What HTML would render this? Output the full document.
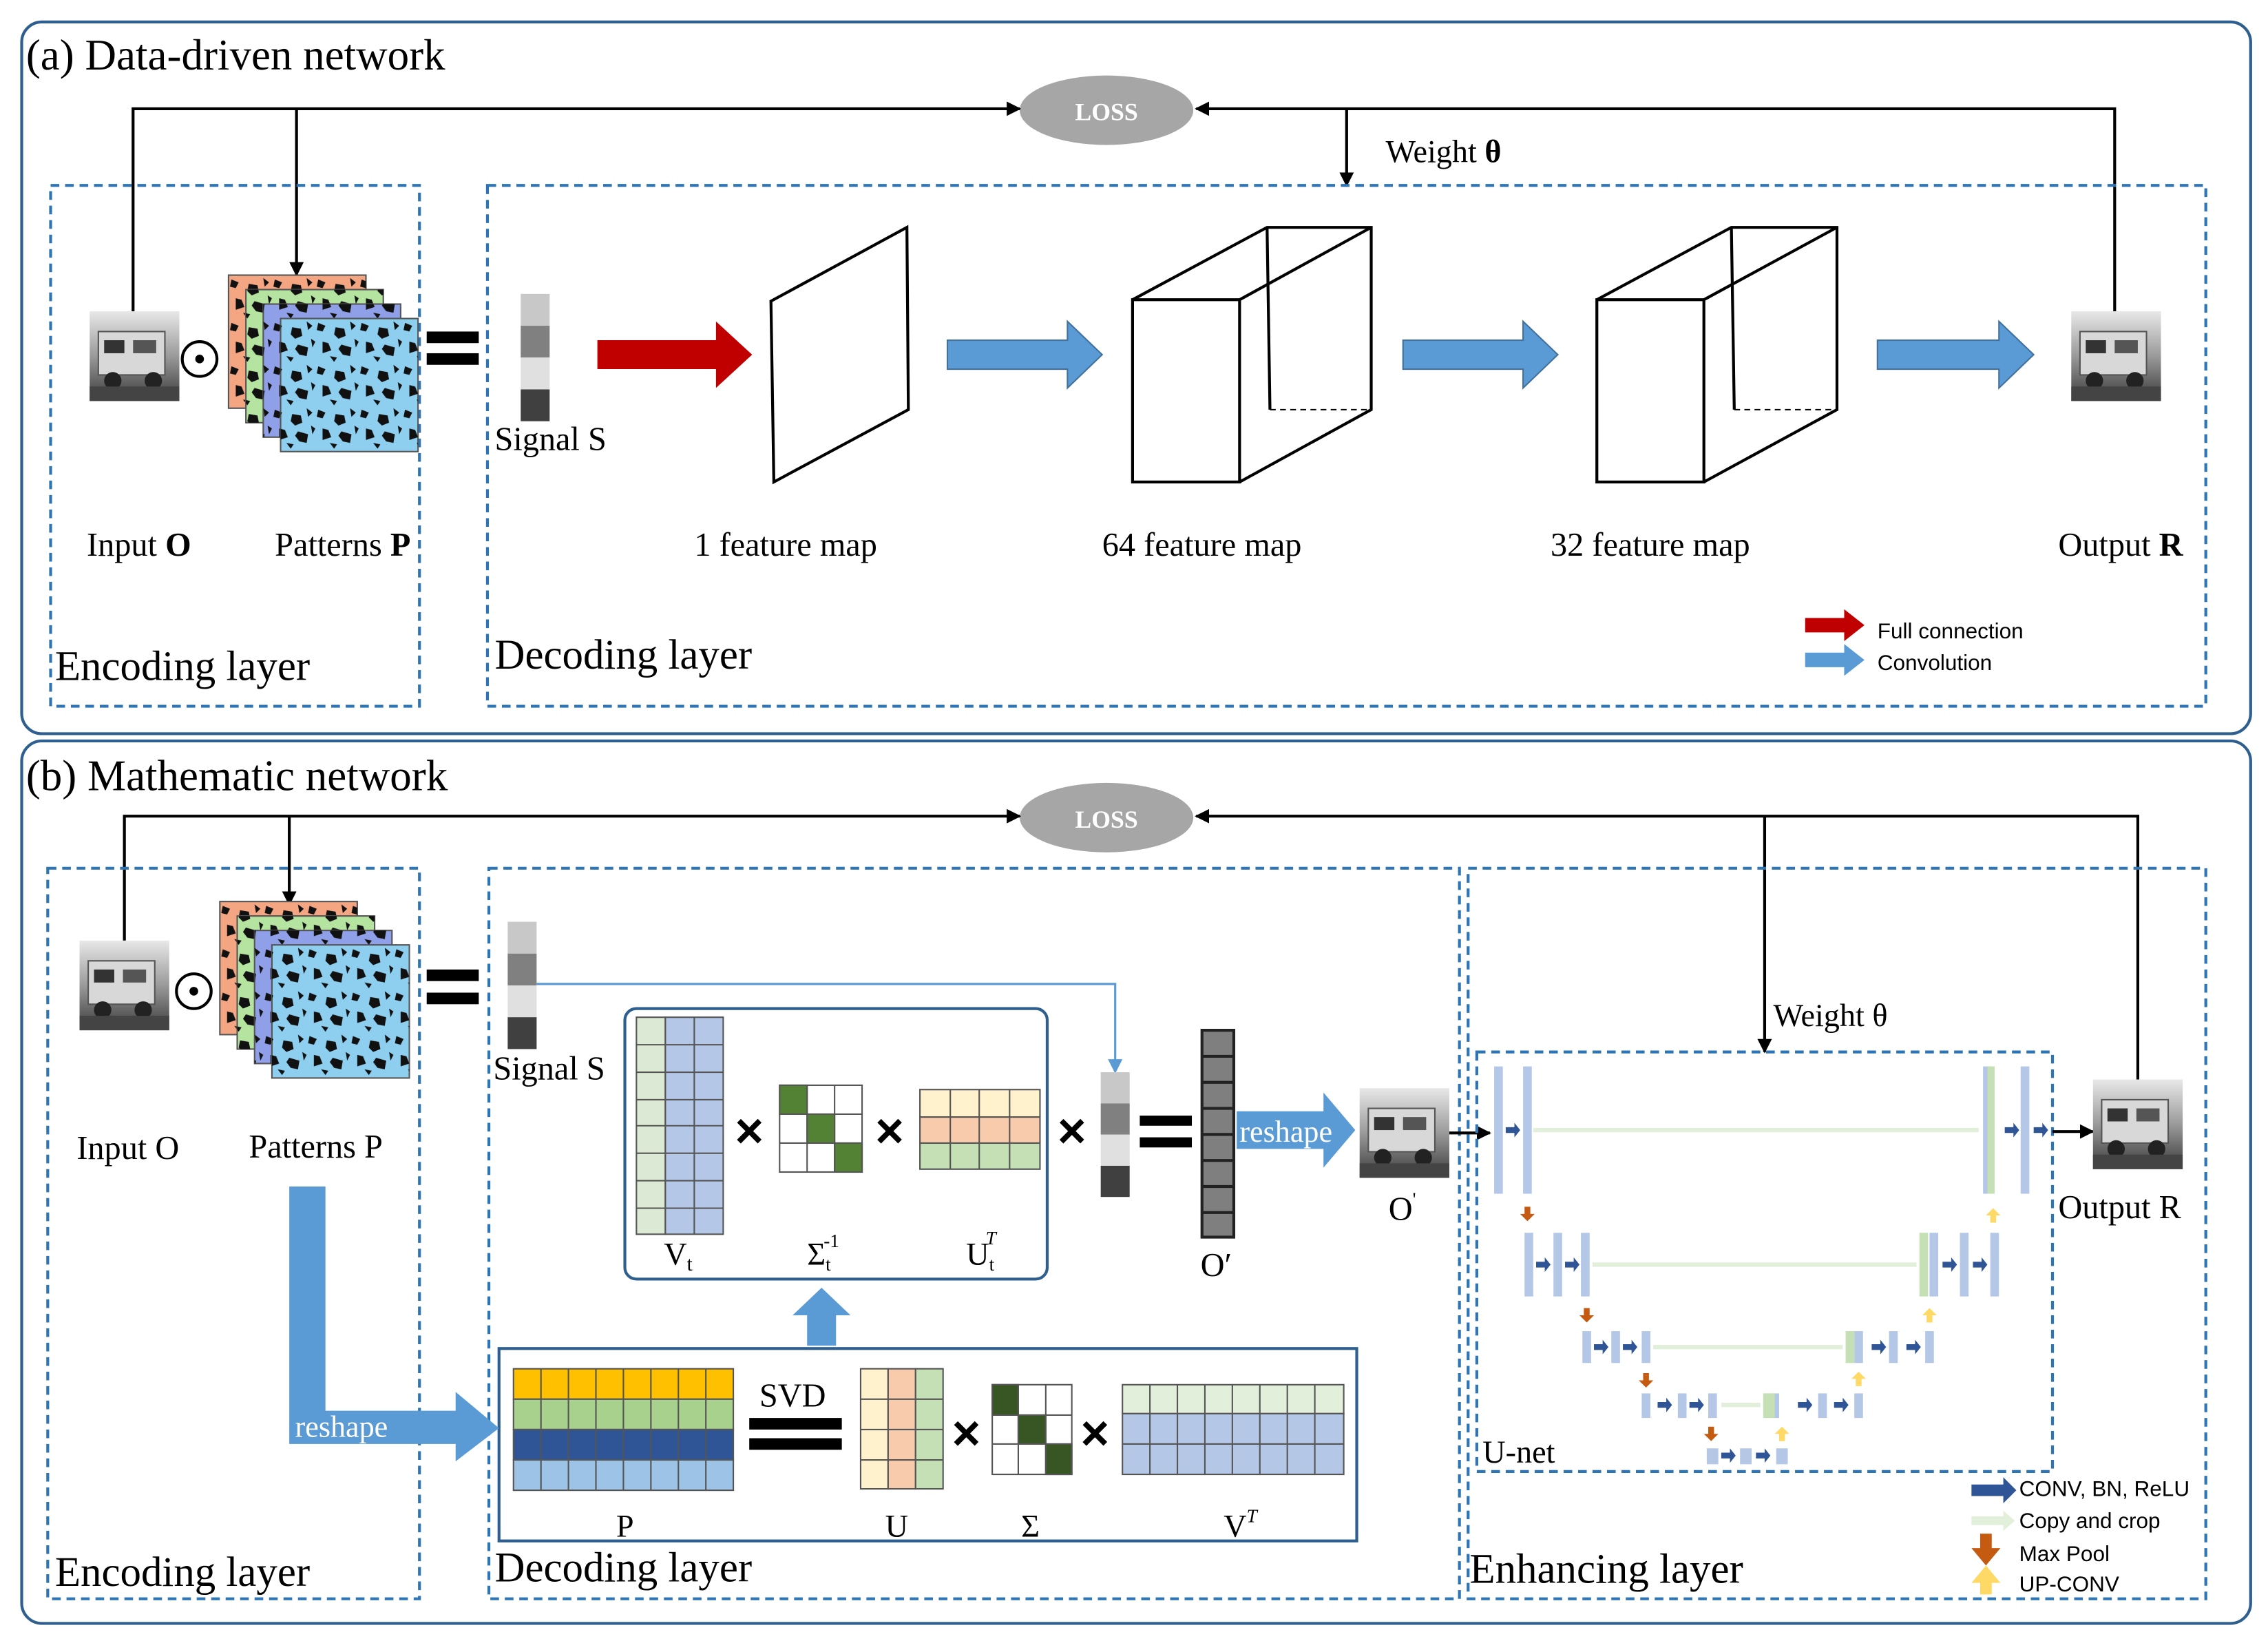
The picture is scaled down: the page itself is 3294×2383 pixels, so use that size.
<!DOCTYPE html>
<html><head><meta charset="utf-8"><style>
html,body{margin:0;padding:0;background:#fff}
svg{display:block}
text{font-family:"Liberation Serif",serif;fill:#000}
.s{font-family:"Liberation Sans",sans-serif}
</style></head><body>
<svg width="3294" height="2383" viewBox="0 0 1568 1134" xmlns="http://www.w3.org/2000/svg">
<defs>
<marker id="ah" markerWidth="10" markerHeight="10" refX="9" refY="5" orient="auto" markerUnits="userSpaceOnUse"><path d="M0,0 L10,5 L0,10 z" fill="#000"/></marker>
<pattern id="nz" width="30" height="30" patternUnits="userSpaceOnUse">
<path d="M2,3 l5,2 l-2,4 l-4,-1z M14,6 l6,1 l1,5 l-5,2 l-3,-3z M24,2 l4,3 l-3,3z M5,16 l4,1 l2,5 l-6,2z M18,18 l7,2 l-1,6 l-5,-1 l-3,-4z M27,14 l3,2 l-2,4z M10,26 l5,1 l-2,3z" fill="#111"/>
</pattern>
<linearGradient id="ph" x1="0" y1="0" x2="0" y2="1"><stop offset="0" stop-color="#e8e8e8"/><stop offset="0.5" stop-color="#9a9a9a"/><stop offset="1" stop-color="#3a3a3a"/></linearGradient>
<g id="photo"><rect width="62" height="62" fill="url(#ph)"/><rect x="6" y="14" width="46" height="30" fill="#d8d8d8" stroke="#555"/><rect x="10" y="20" width="14" height="9" fill="#333"/><rect x="30" y="20" width="16" height="9" fill="#555"/><circle cx="16" cy="48" r="6" fill="#222"/><circle cx="44" cy="48" r="6" fill="#222"/><rect y="52" width="62" height="10" fill="#444"/></g>
<g id="pats">
<rect x="0" y="0" width="95" height="92" fill="#f4a582" stroke="#555"/><rect x="0" y="0" width="95" height="92" fill="url(#nz)"/>
<rect x="12" y="10" width="95" height="92" fill="#b5e3a0" stroke="#555"/><rect x="12" y="10" width="95" height="92" fill="url(#nz)"/>
<rect x="24" y="20" width="95" height="92" fill="#8f9fe8" stroke="#555"/><rect x="24" y="20" width="95" height="92" fill="url(#nz)"/>
<rect x="36" y="30" width="95" height="92" fill="#8ecff0" stroke="#555"/><rect x="36" y="30" width="95" height="92" fill="url(#nz)"/>
</g>
<g id="sig"><rect width="20" height="22" fill="#c8c8c8"/><rect y="22" width="20" height="22" fill="#808080"/><rect y="44" width="20" height="22" fill="#e0e0e0"/><rect y="66" width="20" height="22" fill="#404040"/></g>
</defs>

<!-- Panel a -->
<rect x="15" y="15" width="1541" height="492" rx="14" fill="none" stroke="#2e5f8f" stroke-width="2"/>
<text x="18" y="48" font-size="30">(a) Data-driven network</text>
<ellipse cx="765" cy="76" rx="60" ry="24" fill="#a6a6a6"/>
<text x="765" y="83" font-size="17" font-weight="bold" text-anchor="middle" style="fill:#fff">LOSS</text>
<polyline points="92,216 92,75 705,75" fill="none" stroke="#000" stroke-width="2" marker-end="url(#ah)"/>
<polyline points="205,75 205,190" fill="none" stroke="#000" stroke-width="2" marker-end="url(#ah)"/>
<polyline points="1462,216 1462,75 827,75" fill="none" stroke="#000" stroke-width="2" marker-end="url(#ah)"/>
<polyline points="931,75 931,128" fill="none" stroke="#000" stroke-width="2" marker-end="url(#ah)"/>
<text x="958" y="112" font-size="22">Weight <tspan font-weight="bold">θ</tspan></text>
<rect x="35" y="128" width="255" height="360" fill="none" stroke="#2e75b6" stroke-width="2" stroke-dasharray="6,4"/>
<rect x="337" y="128" width="1188" height="360" fill="none" stroke="#2e75b6" stroke-width="2" stroke-dasharray="6,4"/>
<use href="#photo" x="62" y="215"/>
<circle cx="138" cy="248" r="12" fill="none" stroke="#000" stroke-width="2"/><circle cx="138" cy="248" r="3"/>
<use href="#pats" x="158" y="190"/>
<rect x="295" y="229" width="36" height="8"/><rect x="295" y="244" width="36" height="8"/>
<use href="#sig" x="360" y="203"/>
<text x="342" y="311" font-size="23">Signal  S</text>
<polygon points="413,235 495,235 495,222 520,245 495,268 495,255 413,255" fill="#c00000"/>
<g fill="#5b9bd5" stroke="#41719c">
<polygon points="655,235 738,235 738,222 762,245 738,268 738,255 655,255"/>
<polygon points="970,235 1053,235 1053,222 1077,245 1053,268 1053,255 970,255"/>
<polygon points="1298,235 1382,235 1382,222 1406,245 1382,268 1382,255 1298,255"/>
</g>
<polygon points="533,208 627,157 628,283 535,333" fill="none" stroke="#000" stroke-width="2"/>
<g fill="none" stroke="#000" stroke-width="2">
<rect x="783" y="207" width="74" height="126"/><polyline points="783,207 876,157 948,157 948,283 857,333"/><line x1="857" y1="207" x2="948" y2="157"/><line x1="876" y1="157" x2="878" y2="283"/>
<rect x="1104" y="207" width="74" height="126"/><polyline points="1104,207 1197,157 1270,157 1270,283 1178,333"/><line x1="1178" y1="207" x2="1270" y2="157"/><line x1="1197" y1="157" x2="1199" y2="283"/>
</g>
<line x1="878" y1="283" x2="948" y2="283" stroke="#000" stroke-dasharray="4,3"/>
<line x1="1199" y1="283" x2="1270" y2="283" stroke="#000" stroke-dasharray="4,3"/>
<use href="#photo" x="1432" y="215"/>
<g font-size="23">
<text x="60" y="384">Input <tspan font-weight="bold">O</tspan></text>
<text x="190" y="384">Patterns <tspan font-weight="bold">P</tspan></text>
<text x="480" y="384">1 feature map</text>
<text x="762" y="384">64 feature map</text>
<text x="1072" y="384">32 feature map</text>
<text x="1423" y="384">Output <tspan font-weight="bold">R</tspan></text>
</g>
<text x="38" y="470" font-size="29">Encoding layer</text>
<text x="342" y="462" font-size="29">Decoding layer</text>
<polygon points="1248,427 1275,427 1275,421 1289,432 1275,443 1275,437 1248,437" fill="#c00000"/>
<polygon points="1248,451 1275,451 1275,445 1289,456 1275,467 1275,461 1248,461" fill="#5b9bd5"/>
<text x="1298" y="441" font-size="15" class="s">Full connection</text>
<text x="1298" y="463" font-size="15" class="s">Convolution</text>

<!-- Panel b -->
<rect x="15" y="512" width="1541" height="610" rx="14" fill="none" stroke="#2e5f8f" stroke-width="2"/>
<text x="18" y="546" font-size="30">(b) Mathematic network</text>
<ellipse cx="765" cy="565" rx="60" ry="24" fill="#a6a6a6"/>
<text x="765" y="572" font-size="17" font-weight="bold" text-anchor="middle" style="fill:#fff">LOSS</text>
<polyline points="86,650 86,564 705,564" fill="none" stroke="#000" stroke-width="2" marker-end="url(#ah)"/>
<polyline points="200,564 200,625" fill="none" stroke="#000" stroke-width="2" marker-end="url(#ah)"/>
<polyline points="1478,748 1478,564 827,564" fill="none" stroke="#000" stroke-width="2" marker-end="url(#ah)"/>
<polyline points="1220,564 1220,727" fill="none" stroke="#000" stroke-width="2" marker-end="url(#ah)"/>
<rect x="33" y="600" width="257" height="505" fill="none" stroke="#2e75b6" stroke-width="2" stroke-dasharray="6,4"/>
<rect x="338" y="600" width="671" height="505" fill="none" stroke="#2e75b6" stroke-width="2" stroke-dasharray="6,4"/>
<rect x="1015" y="600" width="510" height="505" fill="none" stroke="#2e75b6" stroke-width="2" stroke-dasharray="6,4"/>
<use href="#photo" x="55" y="650"/>
<circle cx="134" cy="685" r="12" fill="none" stroke="#000" stroke-width="2"/><circle cx="134" cy="685" r="3"/>
<use href="#pats" x="152" y="623"/>
<rect x="295" y="670" width="36" height="8"/><rect x="295" y="686" width="36" height="8"/>
<use href="#sig" x="351" y="637"/>
<text x="341" y="746" font-size="23">Signal S</text>
<text x="53" y="801" font-size="23">Input O</text>
<text x="172" y="800" font-size="23">Patterns P</text>
<polyline points="371,680 771,680 771,740" fill="none" stroke="#5b9bd5" stroke-width="1.5"/>
<polygon points="766,732 776,732 771,742" fill="#5b9bd5"/>
<rect x="432" y="697" width="292" height="187" rx="8" fill="none" stroke="#2e5f8f" stroke-width="2"/>
<g stroke="#555" stroke-width="1">
<rect x="440" y="703" width="20" height="150" fill="#dce9d5"/><rect x="460" y="703" width="40" height="150" fill="#b4c7e7"/>
<path d="M480,703v150 M440,722h60 M440,741h60 M440,760h60 M440,778h60 M440,797h60 M440,816h60 M440,835h60" fill="none"/>
</g>
<text x="459" y="874" font-size="22">V<tspan font-size="14" dy="4">t</tspan></text>
<text x="518" y="793" font-size="34" font-weight="bold" text-anchor="middle" class="s">×</text>
<g stroke="#555">
<rect x="539" y="750" width="57" height="60" fill="#fff"/>
<rect x="539" y="750" width="19" height="20" fill="#548235"/><rect x="558" y="770" width="19" height="20" fill="#548235"/><rect x="577" y="790" width="19" height="20" fill="#548235"/>
<path d="M558,750v60 M577,750v60 M539,770h57 M539,790h57" fill="none"/>
</g>
<text x="558" y="874" font-size="22">Σ<tspan font-size="13" dy="4">t</tspan><tspan font-size="13" dx="-5" dy="-16">-1</tspan></text>
<text x="615" y="793" font-size="34" font-weight="bold" text-anchor="middle" class="s">×</text>
<g stroke="#555">
<rect x="636" y="753" width="83" height="19" fill="#fff2cc"/><rect x="636" y="772" width="83" height="18" fill="#f8cbad"/><rect x="636" y="790" width="83" height="18" fill="#c5e0b4"/>
<path d="M657,753v55 M677,753v55 M698,753v55" fill="none"/>
</g>
<text x="668" y="874" font-size="22">U<tspan font-size="13" dy="4">t</tspan><tspan font-size="13" dx="-6" dy="-18" font-style="italic">T</tspan></text>
<text x="741" y="793" font-size="34" font-weight="bold" text-anchor="middle" class="s">×</text>
<g transform="translate(761,741) scale(1,0.98)"><use href="#sig"/></g>
<rect x="788" y="771" width="36" height="7"/><rect x="788" y="786" width="36" height="7"/>
<rect x="831" y="712" width="22" height="143" fill="#7f7f7f" stroke="#222" stroke-width="2"/>
<path d="M831,730h22 M831,748h22 M831,766h22 M831,784h22 M831,802h22 M831,820h22 M831,838h22" stroke="#222" stroke-width="2"/>
<text x="830" y="882" font-size="23">O′</text>
<polygon points="855,768 915,768 915,755 937,781 915,807 915,794 855,794" fill="#5b9bd5"/>
<text x="857" y="789" font-size="21" style="fill:#fff">reshape</text>
<use href="#photo" x="940" y="752"/>
<text x="960" y="843" font-size="23">O<tspan font-size="13" dy="-10">'</tspan></text>
<line x1="1002" y1="783" x2="1030" y2="783" stroke="#000" stroke-width="2" marker-end="url(#ah)"/>
<polygon points="558,930 578,930 578,909 588,909 568,890 548,909 558,909" fill="#5b9bd5"/>
<rect x="345" y="932" width="593" height="133" fill="none" stroke="#2e5f8f" stroke-width="2"/>
<g stroke="#555">
<rect x="355" y="946" width="152" height="21" fill="#ffc000"/><rect x="355" y="967" width="152" height="21" fill="#a9d18e"/><rect x="355" y="988" width="152" height="21" fill="#2f5597"/><rect x="355" y="1009" width="152" height="21" fill="#9dc3e6"/>
<path d="M374,946v84 M393,946v84 M412,946v84 M431,946v84 M450,946v84 M469,946v84 M488,946v84" fill="none"/>
</g>
<text x="426" y="1062" font-size="22">P</text>
<text x="525" y="972" font-size="23">SVD</text>
<rect x="518" y="980" width="64" height="8"/><rect x="518" y="994" width="64" height="8"/>
<g stroke="#555">
<rect x="595" y="946" width="19" height="83" fill="#fff2cc"/><rect x="614" y="946" width="19" height="83" fill="#f8cbad"/><rect x="633" y="946" width="19" height="83" fill="#c5e0b4"/>
<path d="M595,967h57 M595,988h57 M595,1009h57" fill="none"/>
</g>
<text x="612" y="1062" font-size="22">U</text>
<text x="668" y="1002" font-size="34" font-weight="bold" text-anchor="middle" class="s">×</text>
<g stroke="#555">
<rect x="686" y="957" width="55" height="62" fill="#fff"/>
<rect x="686" y="957" width="18" height="21" fill="#375623"/><rect x="704" y="978" width="19" height="20" fill="#375623"/><rect x="723" y="998" width="18" height="21" fill="#375623"/>
<path d="M704,957v62 M723,957v62 M686,978h55 M686,998h55" fill="none"/>
</g>
<text x="706" y="1062" font-size="22">Σ</text>
<text x="757" y="1002" font-size="34" font-weight="bold" text-anchor="middle" class="s">×</text>
<g stroke="#555">
<rect x="776" y="957" width="153" height="20" fill="#e2efda"/><rect x="776" y="977" width="153" height="42" fill="#b4c7e7"/>
<path d="M776,998h153 M795,957v62 M814,957v62 M833,957v62 M852,957v62 M871,957v62 M890,957v62 M909,957v62" fill="none"/>
</g>
<text x="846" y="1062" font-size="22">V<tspan font-size="13" dy="-10" font-style="italic">T</tspan></text>
<polygon points="200,820 225,820 225,975 315,975 315,962 345,987 315,1010 315,998 200,998" fill="#5b9bd5"/>
<text x="204" y="993" font-size="21" style="fill:#fff">reshape</text>
<text x="38" y="1096" font-size="29">Encoding layer</text>
<text x="342" y="1093" font-size="29">Decoding layer</text>
<text x="1016" y="1094" font-size="29">Enhancing layer</text>
<rect x="1021" y="727" width="398" height="290" fill="none" stroke="#2e75b6" stroke-width="2" stroke-dasharray="6,4"/>
<text x="1226" y="709" font-size="22">Weight θ</text>
<text x="1025" y="1011" font-size="22">U-net</text>
<g fill="#b4c7e7">
<rect x="1033" y="737" width="6" height="88"/><rect x="1053" y="737" width="6" height="88"/>
<rect x="1371" y="737" width="6" height="88"/><rect x="1397" y="737" width="6" height="88"/>
<rect x="1054" y="852" width="6" height="44"/><rect x="1074" y="852" width="6" height="44"/><rect x="1093" y="852" width="6" height="44"/>
<rect x="1334" y="852" width="6" height="44"/><rect x="1355" y="852" width="6" height="44"/><rect x="1376" y="852" width="6" height="44"/>
<rect x="1094" y="920" width="6" height="22"/><rect x="1114" y="920" width="6" height="22"/><rect x="1135" y="920" width="6" height="22"/>
<rect x="1282" y="920" width="6" height="22"/><rect x="1306" y="920" width="6" height="22"/><rect x="1331" y="920" width="6" height="22"/>
<rect x="1135" y="963" width="6" height="17"/><rect x="1160" y="963" width="6" height="17"/><rect x="1181" y="963" width="6" height="17"/>
<rect x="1224" y="963" width="6" height="17"/><rect x="1257" y="963" width="6" height="17"/><rect x="1282" y="963" width="6" height="17"/>
<rect x="1180" y="1001" width="8" height="11"/><rect x="1203" y="1001" width="8" height="11"/><rect x="1228" y="1001" width="8" height="11"/>
</g>
<g fill="#c5e0b4">
<rect x="1374" y="737" width="5" height="88"/><rect x="1327" y="852" width="6" height="44"/><rect x="1276" y="920" width="6" height="22"/><rect x="1219" y="963" width="8" height="17"/>
</g>
<g stroke="#e2efda" stroke-width="3">
<line x1="1060" y1="781" x2="1368" y2="781"/><line x1="1101" y1="874" x2="1325" y2="874"/><line x1="1143" y1="931" x2="1274" y2="931"/><line x1="1190" y1="971" x2="1217" y2="971"/>
</g>
<g fill="#2f5597">
<path d="M1041,779h6v-3l4,5l-4,5v-3h-6z"/><path d="M1386,779h6v-3l4,5l-4,5v-3h-6z"/><path d="M1406,779h6v-3l4,5l-4,5v-3h-6z"/>
<path d="M1062,872h6v-3l4,5l-4,5v-3h-6z"/><path d="M1082,872h6v-3l4,5l-4,5v-3h-6z"/><path d="M1343,872h6v-3l4,5l-4,5v-3h-6z"/><path d="M1364,872h6v-3l4,5l-4,5v-3h-6z"/>
<path d="M1102,929h6v-3l4,5l-4,5v-3h-6z"/><path d="M1122,929h6v-3l4,5l-4,5v-3h-6z"/><path d="M1294,929h6v-3l4,5l-4,5v-3h-6z"/><path d="M1318,929h6v-3l4,5l-4,5v-3h-6z"/>
<path d="M1146,969h6v-3l4,5l-4,5v-3h-6z"/><path d="M1168,969h6v-3l4,5l-4,5v-3h-6z"/><path d="M1243,969h6v-3l4,5l-4,5v-3h-6z"/><path d="M1268,969h6v-3l4,5l-4,5v-3h-6z"/>
<path d="M1190,1004h6v-3l4,5l-4,5v-3h-6z"/><path d="M1214,1004h6v-3l4,5l-4,5v-3h-6z"/>
</g>
<g fill="#c55a11">
<path d="M1054,834h4v5h3l-5,5l-5,-5h3z"/><path d="M1095,904h4v5h3l-5,5l-5,-5h3z"/><path d="M1136,949h4v5h3l-5,5l-5,-5h3z"/><path d="M1181,986h4v5h3l-5,5l-5,-5h3z"/>
</g>
<g fill="#ffd966">
<path d="M1376,845h4v-5h3l-5,-5l-5,5h3z"/><path d="M1332,914h4v-5h3l-5,-5l-5,5h3z"/><path d="M1283,958h4v-5h3l-5,-5l-5,5h3z"/><path d="M1230,996h4v-5h3l-5,-5l-5,5h3z"/>
</g>
<line x1="1419" y1="782" x2="1447" y2="782" stroke="#000" stroke-width="2" marker-end="url(#ah)"/>
<use href="#photo" x="1447" y="746"/>
<text x="1423" y="842" font-size="23">Output R</text>
<path d="M1363,1026h22v-5l9,9l-9,9v-5h-22z" fill="#2f5597"/>
<path d="M1363,1048h22v-4l8,7l-8,7v-4h-22z" fill="#e2efda"/>
<path d="M1369,1060h8v10h6l-10,12l-10,-12h6z" fill="#c55a11"/>
<path d="M1369,1102h8v-8h6l-10,-12l-10,12h6z" fill="#ffd966"/>
<g font-size="15">
<text x="1396" y="1034" class="s">CONV, BN,  ReLU</text>
<text x="1396" y="1056" class="s">Copy and crop</text>
<text x="1396" y="1079" class="s">Max Pool</text>
<text x="1396" y="1100" class="s">UP-CONV</text>
</g>
</svg>
</body></html>
